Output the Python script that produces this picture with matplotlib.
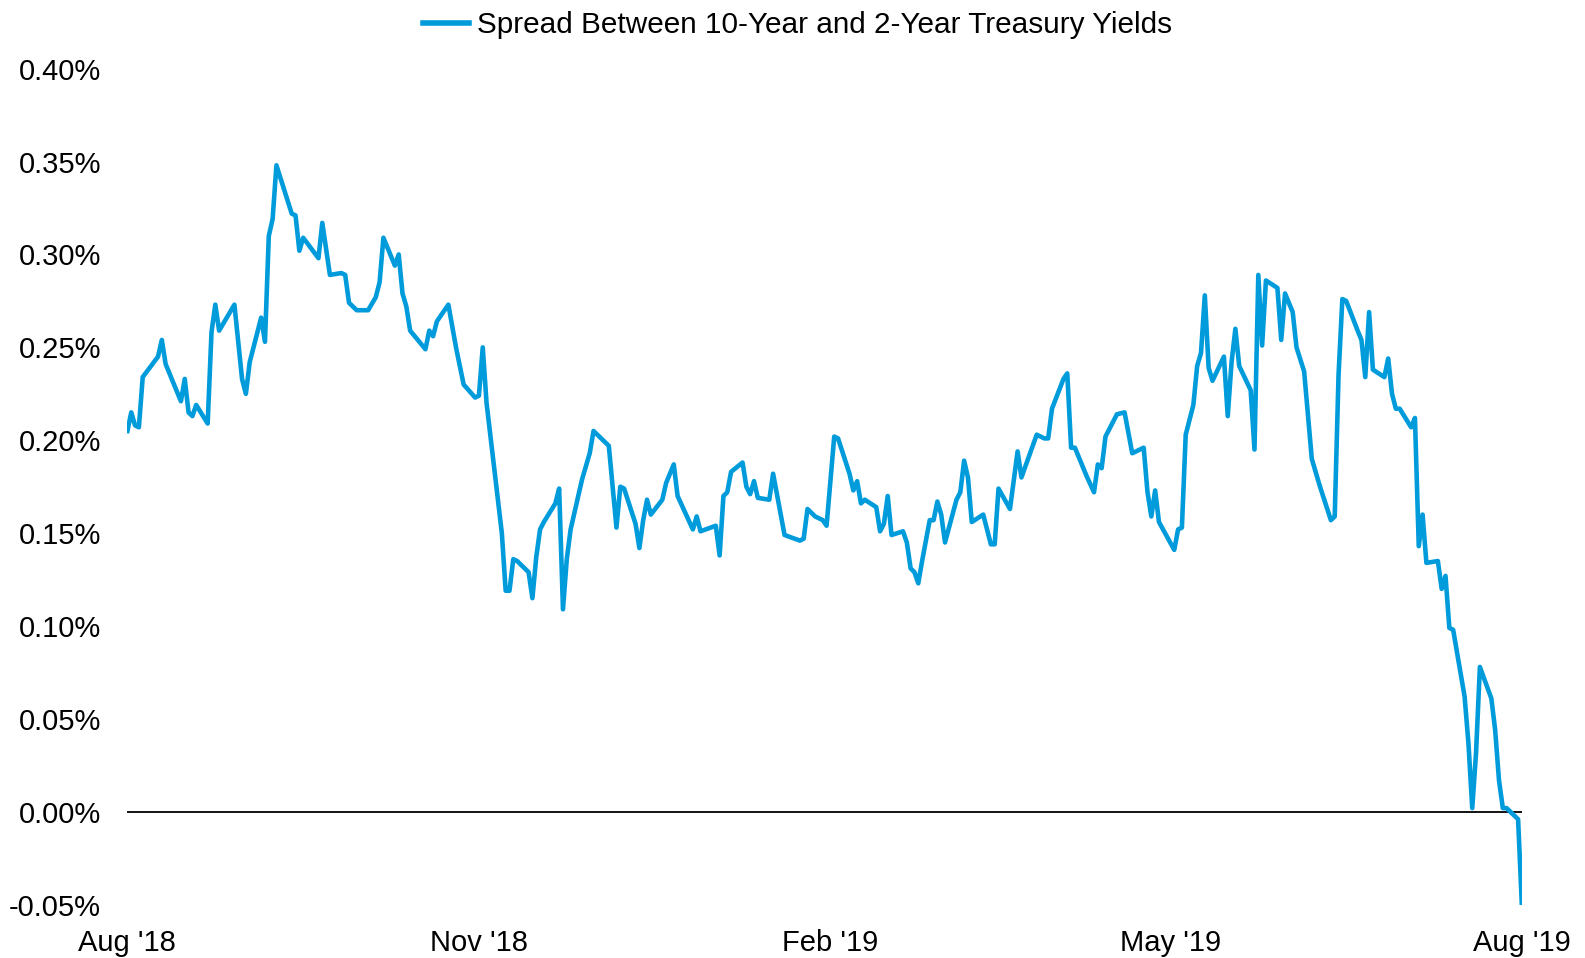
## Spread between 10-year and 2-year treasury yields, Aug '18 - Aug '19
import pandas as pd
import matplotlib
matplotlib.use("Agg")
import matplotlib.pyplot as plt
from matplotlib.ticker import FuncFormatter

plt.rcParams['font.family'] = ['Liberation Sans', 'DejaVu Sans']

######Data############################
start_date = "2018-08-27"

# days after start_date for each traced point
day_offset = [
    0, 1, 2, 3, 4, 8, 9, 10, 14, 15, 16, 17, 18, 21, 22, 23, 24, 28, 30, 31,
    32, 35, 36, 37, 38, 39, 43, 44, 45, 46, 50, 51, 53, 56, 57, 58, 60, 63, 65, 66,
    67, 70, 71, 72, 73, 74, 78, 79, 80, 81, 84, 86, 88, 91, 92, 93, 94, 98, 99, 100,
    101, 102, 105, 106, 107, 108, 109, 112, 113, 114, 115, 116, 119, 121, 122, 126, 128, 129, 130, 133,
    134, 135, 136, 137, 140, 141, 143, 144, 148, 149, 150, 154, 155, 156, 157, 158, 161, 162, 163, 164,
    165, 168, 169, 172, 176, 177, 178, 180, 182, 183, 185, 186, 189, 190, 191, 192, 193, 196, 197, 198,
    199, 200, 203, 204, 205, 206, 207, 208, 210, 211, 212, 213, 214, 217, 218, 219, 220, 221, 224, 226,
    227, 228, 231, 233, 234, 238, 240, 241, 242, 245, 246, 247, 248, 251, 253, 254, 255, 256, 259, 261,
    263, 266, 267, 268, 269, 270, 274, 275, 276, 277, 279, 280, 281, 282, 283, 284, 287, 288, 289, 290,
    291, 294, 295, 296, 297, 298, 301, 302, 303, 305, 306, 308, 310, 312, 315, 316, 317, 318, 319, 322,
    323, 324, 325, 326, 329, 330, 331, 332, 333, 336, 337, 338, 339, 340, 343, 344, 345, 346, 347, 350,
    351, 352, 353, 354, 357, 358, 359, 360, 361, 364, 365,
]

# spread in percent
spread = [
    0.205, 0.215, 0.208, 0.207, 0.234, 0.245, 0.254, 0.241, 0.221, 0.233, 0.215, 0.213, 0.219, 0.209, 0.258, 0.273, 0.259, 0.273, 0.233, 0.225,
    0.242, 0.266, 0.253, 0.310, 0.319, 0.348, 0.322, 0.321, 0.302, 0.309, 0.298, 0.317, 0.289, 0.290, 0.289, 0.274, 0.270, 0.270, 0.277, 0.285,
    0.309, 0.294, 0.300, 0.279, 0.272, 0.259, 0.249, 0.259, 0.256, 0.264, 0.273, 0.250, 0.230, 0.223, 0.224, 0.250, 0.220, 0.150, 0.119, 0.119,
    0.136, 0.135, 0.129, 0.115, 0.137, 0.152, 0.156, 0.166, 0.174, 0.109, 0.136, 0.152, 0.179, 0.193, 0.205, 0.197, 0.153, 0.175, 0.174, 0.155,
    0.142, 0.157, 0.168, 0.160, 0.168, 0.177, 0.187, 0.170, 0.152, 0.159, 0.151, 0.154, 0.138, 0.170, 0.172, 0.183, 0.188, 0.175, 0.171, 0.178,
    0.169, 0.168, 0.182, 0.149, 0.146, 0.147, 0.163, 0.159, 0.157, 0.154, 0.202, 0.201, 0.182, 0.173, 0.178, 0.166, 0.168, 0.164, 0.151, 0.155,
    0.170, 0.149, 0.151, 0.145, 0.131, 0.129, 0.123, 0.135, 0.157, 0.157, 0.167, 0.160, 0.145, 0.168, 0.172, 0.189, 0.180, 0.156, 0.160, 0.144,
    0.144, 0.174, 0.163, 0.194, 0.180, 0.203, 0.201, 0.201, 0.217, 0.233, 0.236, 0.196, 0.196, 0.181, 0.172, 0.187, 0.185, 0.202, 0.214, 0.215,
    0.193, 0.196, 0.172, 0.159, 0.173, 0.156, 0.141, 0.152, 0.153, 0.203, 0.219, 0.240, 0.247, 0.278, 0.239, 0.232, 0.245, 0.213, 0.242, 0.260,
    0.240, 0.227, 0.195, 0.289, 0.251, 0.286, 0.282, 0.254, 0.279, 0.269, 0.250, 0.237, 0.190, 0.176, 0.157, 0.159, 0.235, 0.276, 0.275, 0.259,
    0.254, 0.234, 0.269, 0.238, 0.234, 0.244, 0.225, 0.217, 0.217, 0.207, 0.212, 0.143, 0.160, 0.134, 0.135, 0.120, 0.127, 0.099, 0.098, 0.062,
    0.037, 0.002, 0.032, 0.078, 0.061, 0.044, 0.017, 0.002, 0.002, -0.004, -0.051,
]

series_label = "Spread Between 10-Year and 2-Year Treasury Yields"

dates = pd.Timestamp(start_date) + pd.to_timedelta(day_offset, unit="D")
tick_dates = pd.date_range(start_date, periods=5, freq=pd.DateOffset(months=3))

######Plot#######
blue = "#009bdb"
fig = plt.figure(figsize=(15.85, 9.58), dpi=100)
ax = fig.add_axes([0.0804, 0.0556, 0.8798, 0.8727])

ax.axhline(0, color="black", lw=1.3, zorder=1)
ax.plot(dates, spread, color=blue, lw=3.3, solid_joinstyle="round", zorder=2, label=series_label)

ax.set_xlim(dates[0], dates[-1])
ax.set_ylim(-0.05, 0.40)
ax.set_yticks([-0.05, 0, 0.05, 0.10, 0.15, 0.20, 0.25, 0.30, 0.35, 0.40])
ax.yaxis.set_major_formatter(FuncFormatter(lambda v, p: "{:.2f}%".format(v)))
ax.set_xticks(tick_dates)
ax.set_xticklabels([d.strftime("%b '%y") for d in tick_dates])

for s in ax.spines.values():
    s.set_visible(False)
ax.tick_params(axis="both", length=0, labelsize=21, colors="black")
ax.tick_params(axis="y", pad=19)
ax.tick_params(axis="x", pad=17.5)

leg = fig.legend(loc="center", bbox_to_anchor=(0.503, 0.974), frameon=False, fontsize=21.4,
                 handlelength=1.57, handletextpad=0.24, borderpad=0)
for h in leg.get_lines():
    h.set_linewidth(4)

fig.savefig("out.png", dpi=100)
